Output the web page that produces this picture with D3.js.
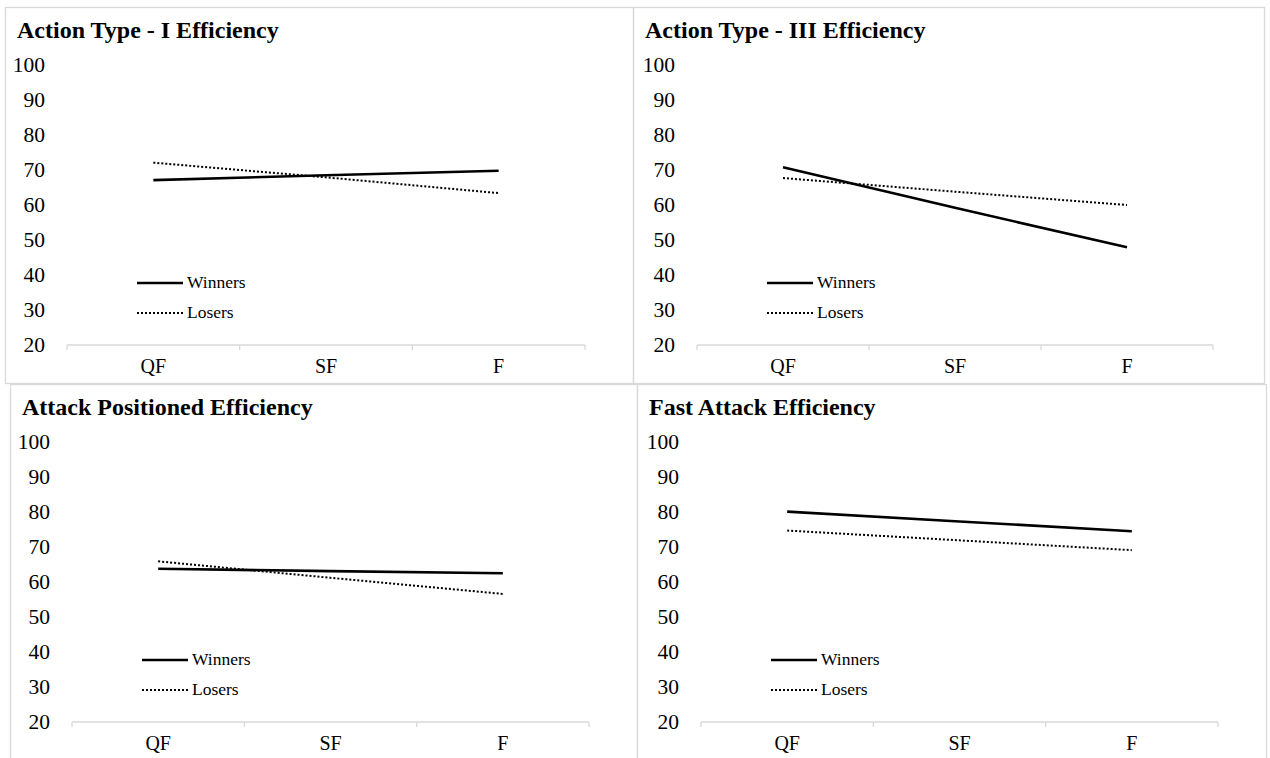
<!DOCTYPE html>
<html>
<head>
<meta charset="utf-8">
<script src="https://cdn.jsdelivr.net/npm/d3@7"></script>
<style>
  html, body { margin: 0; padding: 0; background: #ffffff; }
  svg { display: block; }
</style>
</head>
<body>
<svg id="chart" width="1270" height="758"></svg>
<script>
// ---- Data ----
const categories = ["QF", "SF", "F"];
const yTicks = [20, 30, 40, 50, 60, 70, 80, 90, 100];
const seriesNames = ["Winners", "Losers"];
const panelTitles = [
  "Action Type - I Efficiency",
  "Action Type - III  Efficiency",
  "Attack Positioned Efficiency",
  "Fast Attack Efficiency"
];
const winnersActionI   = [67.1, 68.5, 69.8];
const losersActionI    = [72.1, 67.9, 63.4];
const winnersActionIII = [70.8, 59.2, 47.9];
const losersActionIII  = [67.7, 63.8, 60.0];
const winnersPositioned = [63.8, 63.1, 62.5];
const losersPositioned  = [65.9, 61.2, 56.6];
const winnersFast = [80.1, 77.3, 74.5];
const losersFast  = [74.7, 71.9, 69.1];

// ---- Layout (boxes and plot offsets) ----
const panels = [
  { box: {x: 5,   y: 7,   w: 628, h: 376}, plotL: 62, plotR: 580, title: panelTitles[0], w: winnersActionI,   l: losersActionI },
  { box: {x: 633, y: 7,   w: 631, h: 376}, plotL: 64, plotR: 580, title: panelTitles[1], w: winnersActionIII, l: losersActionIII },
  { box: {x: 10,  y: 384, w: 627, h: 380}, plotL: 62, plotR: 579, title: panelTitles[2], w: winnersPositioned, l: losersPositioned },
  { box: {x: 637, y: 384, w: 629, h: 380}, plotL: 64, plotR: 581, title: panelTitles[3], w: winnersFast,      l: losersFast }
];

const FONT = '"Liberation Serif"';
const svg = d3.select("#chart");
svg.append("rect").attr("width", 1270).attr("height", 758).attr("fill", "#ffffff");

function styleText(sel, size, bold) {
  sel.attr("font-family", null).attr("font-size", null)
    .style("font-family", FONT)
    .style("font-size", size + "px")
    .style("font-weight", bold ? "bold" : "normal")
    .attr("fill", "#000");
}

panels.forEach(p => {
  const b = p.box;
  const g = svg.append("g").attr("transform", `translate(${b.x},${b.y})`);

  // border
  g.append("rect")
    .attr("x", 0.5).attr("y", 0.5)
    .attr("width", b.w).attr("height", b.h)
    .attr("fill", "none").attr("stroke", "#d9d9d9").attr("stroke-width", 1.3);

  // title
  g.append("text")
    .attr("x", 12).attr("y", 31)
    .text(p.title)
    .call(styleText, 24, true);

  const x = d3.scaleBand().domain(categories).range([p.plotL, p.plotR]).paddingInner(0).paddingOuter(0);
  const y = d3.scaleLinear().domain([20, 100]).range([338, 58]);

  // y axis labels
  const yAxis = d3.axisLeft(y).tickValues(yTicks).tickSize(0).tickPadding(22).tickFormat(d3.format("d"));
  const ya = g.append("g").attr("transform", `translate(${p.plotL},0)`).call(yAxis);
  ya.attr("font-family", null).attr("font-size", null);
  ya.select(".domain").remove();
  ya.selectAll("text").call(styleText, 21.5, false);

  // x axis
  const xAxis = d3.axisBottom(x).tickSize(0).tickPadding(14);
  const xa = g.append("g").attr("transform", `translate(0,${y(20)})`).call(xAxis);
  xa.attr("font-family", null).attr("font-size", null);
  xa.select(".domain").remove();
  xa.selectAll("text").call(styleText, 20, false);
  g.append("line")
    .attr("x1", p.plotL).attr("x2", p.plotR)
    .attr("y1", y(20)).attr("y2", y(20))
    .attr("stroke", "#d9d9d9").attr("stroke-width", 1.5);
  const bounds = categories.map(c => x(c)).concat([x(categories[categories.length - 1]) + x.bandwidth()]);
  g.selectAll(".xtick").data(bounds).enter().append("line")
    .attr("x1", d => d).attr("x2", d => d)
    .attr("y1", y(20)).attr("y2", y(20) + 5)
    .attr("stroke", "#d9d9d9").attr("stroke-width", 1.3);

  const line = d3.line()
    .x((d, i) => x(categories[i]) + x.bandwidth() / 2)
    .y(d => y(d));

  // losers (dotted)
  g.append("path").datum(p.l).attr("d", line)
    .attr("fill", "none").attr("stroke", "#000").attr("stroke-width", 2)
    .attr("stroke-dasharray", "2,2");
  // winners (solid)
  g.append("path").datum(p.w).attr("d", line)
    .attr("fill", "none").attr("stroke", "#000").attr("stroke-width", 2.6)
    .attr("stroke-linejoin", "round");

  // legend
  const lx = p.plotL + 70;
  const legendY = [276, 306];
  seriesNames.forEach((name, i) => {
    g.append("line")
      .attr("x1", lx).attr("x2", lx + 46)
      .attr("y1", legendY[i]).attr("y2", legendY[i])
      .attr("stroke", "#000")
      .attr("stroke-width", i === 0 ? 2.6 : 2)
      .attr("stroke-dasharray", i === 0 ? null : "2,2");
    g.append("text")
      .attr("x", lx + 50).attr("y", legendY[i] + 5)
      .text(name)
      .call(styleText, 17.5, false);
  });
});
</script>
</body>
</html>
